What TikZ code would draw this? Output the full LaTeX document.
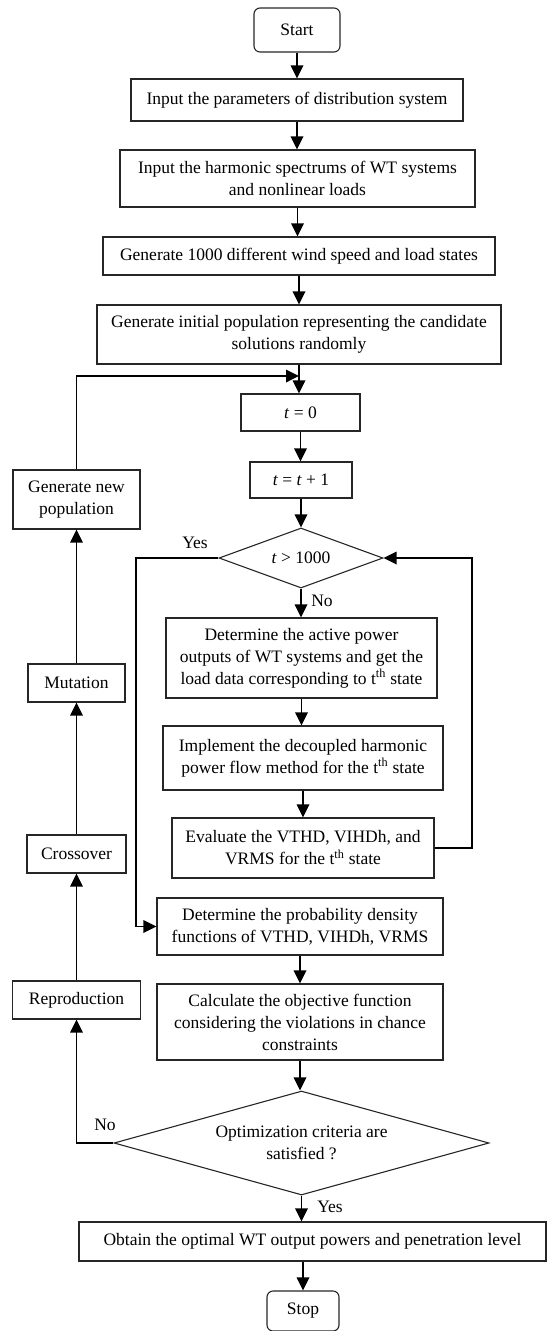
\documentclass[tikz,border=0pt]{standalone}
\usepackage{fontspec}
\setmainfont{Liberation Serif}
\usetikzlibrary{shapes.geometric,arrows.meta,calc}
\begin{document}
\begin{tikzpicture}[x=1pt,y=-1pt,
  box/.style={draw=black!85, line width=1.1pt, inner sep=0pt, align=center, font=\fontsize{17.5}{22}\selectfont},
  term/.style={box, rounded corners=6pt},
  dec/.style={box, shape=diamond},
  arr/.style={line width=1.8pt, -{Triangle[length=13pt,width=12.5pt]}},
  lbl/.style={font=\fontsize{17.5}{22}\selectfont, inner sep=0pt}]
\useasboundingbox (0,0) rectangle (548,1331);
% main column
\node[term, minimum width=86pt, minimum height=44pt] (start) at (297,30) {Start};
\node[box, minimum width=332pt, minimum height=42pt] (b1) at (297,100) {Input the parameters of distribution system};
\node[box, minimum width=355pt, minimum height=57pt] (b2) at (297.5,178.5) {Input the harmonic spectrums of WT systems\\and nonlinear loads};
\node[box, minimum width=392pt, minimum height=38pt] (b3) at (299,256) {Generate 1000 different wind speed and load states};
\node[box, minimum width=404pt, minimum height=59pt] (b4) at (299,334.5) {Generate initial population representing the candidate\\solutions randomly};
\node[box, minimum width=119pt, minimum height=37pt] (t0) at (300.5,412.5) {\textit{t} = 0};
\node[box, minimum width=102pt, minimum height=36pt] (t1) at (301,480) {\textit{t} = \textit{t} + 1};
\node[dec, minimum width=164pt, minimum height=60pt, aspect=2.7] (d1) at (301,558) {\textit{t} > 1000};
\node[box, minimum width=271pt, minimum height=80pt] (a1) at (301.5,658) {Determine the active power\\outputs of WT systems and get the\\load data corresponding to t\textsuperscript{th} state};
\node[box, minimum width=280pt, minimum height=64pt] (a2) at (303,758) {Implement the decoupled harmonic\\power flow method for the t\textsuperscript{th} state};
\node[box, minimum width=262pt, minimum height=60pt] (a3) at (303,848) {Evaluate the VTHD, VIHDh, and\\VRMS for the t\textsuperscript{th} state};
\node[box, minimum width=286pt, minimum height=57pt] (a4) at (300,926.5) {Determine the probability density\\functions of VTHD, VIHDh, VRMS};
\node[box, minimum width=286pt, minimum height=76pt] (a5) at (300,1022) {Calculate the objective function\\considering the violations in chance\\constraints};
\node[dec, minimum width=375pt, minimum height=104pt, aspect=3.6] (d2) at (301.5,1143) {Optimization criteria are\\satisfied ?};
\node[box, minimum width=467pt, minimum height=39pt] (ob) at (312.5,1241.5) {Obtain the optimal WT output powers and penetration level};
\node[term, minimum width=72pt, minimum height=40pt] (stop) at (303,1311) {Stop};
% left column
\node[box, minimum width=127pt, minimum height=59pt] (gnp) at (76.5,499.5) {Generate new\\population};
\node[box, minimum width=97pt, minimum height=38pt] (mut) at (76.5,683) {Mutation};
\node[box, minimum width=99pt, minimum height=38pt] (cro) at (76.5,854) {Crossover};
\node[box, minimum width=128pt, minimum height=38pt] (rep) at (76.5,1000) {Reproduction};
% labels
\node[lbl] (yes1) at (195,543) {Yes};
\node[lbl] (no1) at (322,601) {No};
\node[lbl] (no2) at (105,1125) {No};
\node[lbl] (yes2) at (330,1207) {Yes};
% helper coordinates
\coordinate (j) at (299,376);
\coordinate (yl) at (136,0);
\coordinate (xr) at (472,0);
% main arrows
\draw[arr] (start.south) -- (start.south |- b1.north);
\draw[arr] (b1.south) -- (b1.south |- b2.north);
\draw[arr] (b2.south) -- (b2.south |- b3.north);
\draw[arr] (b3.south) -- (b3.south |- b4.north);
\draw[arr] (b4.south) -- (b4.south |- t0.north);
\draw[arr] (t0.south) -- (t0.south |- t1.north);
\draw[arr] (t1.south) -- (t1.south |- d1.north);
\draw[arr] (d1.south) -- (d1.south |- a1.north);
\draw[arr] (a1.south) -- (a1.south |- a2.north);
\draw[arr] (a2.south) -- (a2.south |- a3.north);
\draw[arr] (a4.south) -- (a4.south |- a5.north);
\draw[arr] (a5.south) -- (a5.south |- d2.north);
\draw[arr] (d2.south) -- (d2.south |- ob.north);
\draw[arr] (stop.north |- ob.south) -- (stop.north);
% loops
\draw[arr] (d1.west) -| (yl |- a4.west) -- (a4.west);
\draw[arr] (a3.east) -| (xr |- d1.east) -- (d1.east);
\draw[arr] (d2.west) -| (rep.south);
\draw[arr] (rep.north) -- (cro.south);
\draw[arr] (cro.north) -- (mut.south);
\draw[arr] (mut.north) -- (gnp.south);
\draw[arr] (gnp.north) |- (j);
\end{tikzpicture}
\end{document}
